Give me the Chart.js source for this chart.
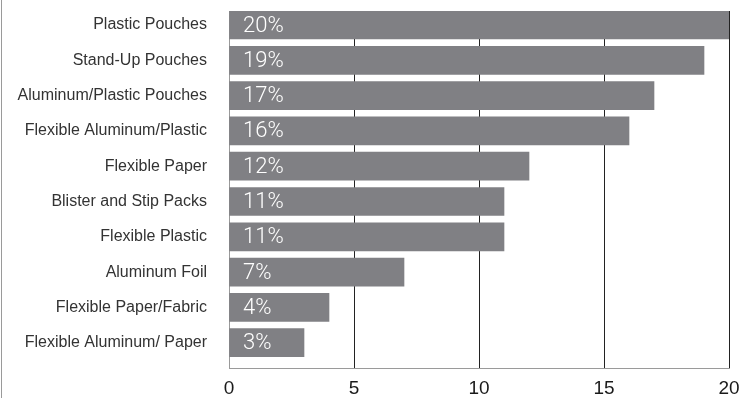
<!DOCTYPE html>
<html><head><meta charset="utf-8">
<script src="https://cdn.jsdelivr.net/npm/chart.js@4"></script>
<style>
html,body{margin:0;padding:0;background:#fff;overflow:hidden}
#wrap{position:relative;width:743px;height:398px}
#frame{position:absolute;left:1px;top:0;width:1px;height:398px;background:#9a9a9a}
</style></head><body>
<div id="wrap"><canvas id="c"></canvas><div id="frame"></div></div>
<script>
const categories = ['Plastic Pouches','Stand-Up Pouches','Aluminum/Plastic Pouches','Flexible Aluminum/Plastic','Flexible Paper','Blister and Stip Packs','Flexible Plastic','Aluminum Foil','Flexible Paper/Fabric','Flexible Aluminum/ Paper'];
const values = [20,19,17,16,12,11,11,7,4,3];
const valueLabels = ['20%','19%','17%','16%','12%','11%','11%','7%','4%','3%'];
const xTicks = [0,5,10,15,20];

const points = values.map((v,i)=>({x:v,y:i}));
const Y_MIN = -0.397, Y_MAX = 9.717;

const valueLabelPlugin = {
  id:'valueLabels',
  afterDatasetsDraw(chart){
    const ctx = chart.ctx;
    const meta = chart.getDatasetMeta(0);
    const x0 = chart.scales.x.getPixelForValue(0);
    ctx.save();
    ctx.font = '300 22px Roboto';
    ctx.fillStyle = '#ffffff';
    ctx.textAlign = 'left';
    ctx.textBaseline = 'middle';
    meta.data.forEach((bar,i)=>{
      ctx.fillText(valueLabels[i], x0 + 14, bar.y + 1);
    });
    ctx.restore();
  }
};

new Chart(document.getElementById('c'), {
  type:'bar',
  data:{datasets:[{data:points, backgroundColor:'#808084', borderWidth:0, barThickness:28}]},
  options:{
    indexAxis:'y',
    responsive:true, maintainAspectRatio:false, animation:false,
    layout:{padding:{top:11,right:14,left:0,bottom:0}},
    plugins:{legend:{display:false},tooltip:{enabled:false}},
    scales:{
      x:{type:'linear',min:0,max:20,offset:false,
        afterFit(s){s.height=30;s.paddingLeft=0;s.paddingRight=0;s.paddingTop=0;s.paddingBottom=0;},
        afterBuildTicks(s){s.ticks = xTicks.map(v=>({value:v})); s.min=0; s.max=20;},
        ticks:{padding:9,color:'#1a1a1a',font:{family:'Liberation Sans',size:19}},
        grid:{offset:false,drawTicks:false,tickLength:0,lineWidth:1,color:c=>c.tick && c.tick.value===0?'rgba(0,0,0,0)':'#222'},
        border:{display:true,color:'#9a9a9a',width:1}
      },
      y:{type:'linear',reverse:true,min:Y_MIN,max:Y_MAX,bounds:'data',offset:false,
        afterBuildTicks(s){s.ticks = categories.map((c,i)=>({value:i})); s.min=Y_MIN; s.max=Y_MAX;},
        afterFit(s){s.width=229;s.paddingLeft=0;s.paddingRight=0;s.paddingTop=0;s.paddingBottom=0;},
        ticks:{autoSkip:false,padding:22,color:'#333',
          font:{family:'Liberation Sans',size:16},
          callback:v=>categories[v]!==undefined?categories[v]:''},
        grid:{display:false,offset:false,drawTicks:false,tickLength:0},
        border:{display:true,color:'#9a9a9a',width:1}
      }
    }
  },
  plugins:[valueLabelPlugin]
});
</script>
</body></html>
